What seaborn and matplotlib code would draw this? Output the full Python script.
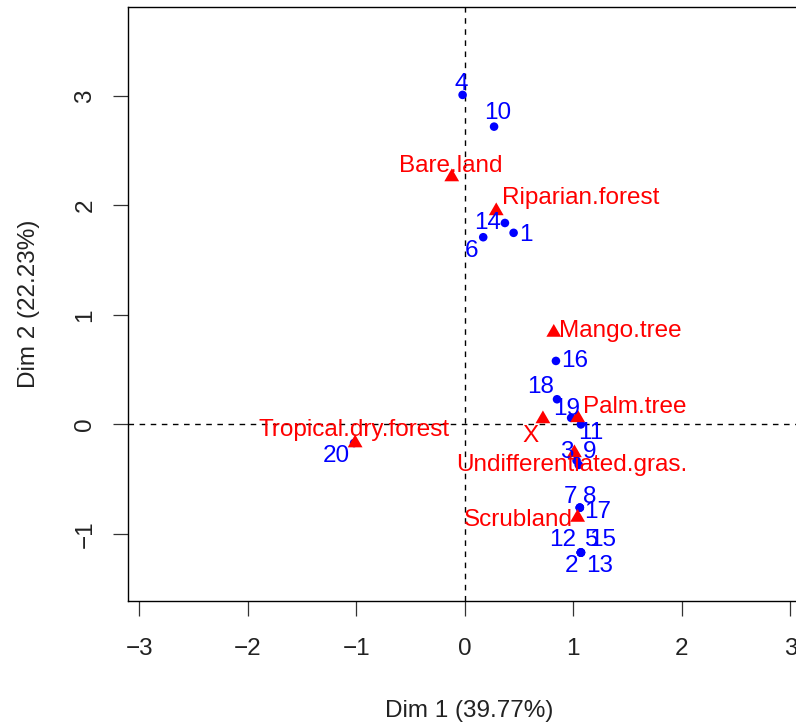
import matplotlib
matplotlib.use("Agg")
import matplotlib.pyplot as plt
import seaborn as sns
import pandas as pd

# ---- data ----
row_names = [str(i) for i in range(1, 21)]
row_dim1 = [0.45, 1.07, 1.03, -0.02, 1.07, 0.17, 1.06, 1.06, 1.05, 0.27,
            1.07, 1.07, 1.07, 0.37, 1.07, 0.84, 1.06, 0.85, 0.98, -1.02]
row_dim2 = [1.75, -1.17, -0.33, 3.01, -1.17, 1.71, -0.76, -0.76, -0.37, 2.72,
            0.00, -1.17, -1.17, 1.84, -1.17, 0.58, -0.76, 0.23, 0.06, -0.17]

col_names = ["Bare.land", "Riparian.forest", "Mango.tree", "Palm.tree", "X",
             "Undifferentiated.gras.", "Scrubland", "Tropical.dry.forest"]
col_dim1 = [-0.12, 0.29, 0.82, 1.04, 0.72, 1.01, 1.04, -1.01]
col_dim2 = [2.26, 1.95, 0.84, 0.06, 0.05, -0.26, -0.85, -0.17]

x_ticks = [-3, -2, -1, 0, 1, 2, 3]
y_ticks = [-1, 0, 1, 2, 3]
x_label = "Dim 1 (39.77%)"
y_label = "Dim 2 (22.23%)"

# ---- label placement (layout, data coordinates) ----
row_lab_x = [0.56, 0.98, 0.94, -0.03, 1.17, 0.06, 0.97, 1.15, 1.15, 0.30,
             1.16, 0.90, 1.24, 0.21, 1.27, 1.01, 1.22, 0.70, 0.94, -1.18]
row_lab_y = [1.73, -1.29, -0.25, 3.11, -1.06, 1.58, -0.66, -0.66, -0.25, 2.84,
             -0.08, -1.06, -1.29, 1.84, -1.06, 0.58, -0.80, 0.34, 0.14, -0.29]
col_lab_x = [-0.13, 1.07, 1.43, 1.57, 0.61, 0.99, 0.49, -1.02]
col_lab_y = [2.36, 2.07, 0.85, 0.16, -0.11, -0.37, -0.87, -0.05]

rows = pd.DataFrame({"name": row_names, "d1": row_dim1, "d2": row_dim2})
cols = pd.DataFrame({"name": col_names, "d1": col_dim1, "d2": col_dim2})

sns.set_theme(style="ticks")
plt.rcParams["font.family"] = ["Liberation Sans", "DejaVu Sans"]

W, H = 796, 723
fig = plt.figure(figsize=(W / 100, H / 100), dpi=100)
left, right, top, bottom = 128.3, 811, 7.3, 600.7
ax = fig.add_axes([left / W, 1 - bottom / H, (right - left) / W, (bottom - top) / H])

FS = 17.5
BLUE = "#0000FF"
RED = "#FF0000"

ax.axhline(0, color="black", lw=1.0, ls=(0, (4, 4)), zorder=1)
ax.axvline(0, color="black", lw=1.0, ls=(0, (4, 4)), zorder=1)

sns.scatterplot(data=rows, x="d1", y="d2", ax=ax, color=BLUE, marker="o",
                s=38, edgecolor="none", linewidth=0, zorder=3)
tri = [(-1, -0.58), (1, -0.58), (0, 1.15)]
sns.scatterplot(data=cols, x="d1", y="d2", ax=ax, color=RED, marker=tri,
                s=150, edgecolor="none", linewidth=0, zorder=3)

for name, lx, ly in zip(row_names, row_lab_x, row_lab_y):
    ax.text(lx, ly, name, color=BLUE, fontsize=FS, ha="center", va="center", zorder=4)
for name, lx, ly in zip(col_names, col_lab_x, col_lab_y):
    ax.text(lx, ly, name, color=RED, fontsize=FS, ha="center", va="center", zorder=4)

ax.set_xlim(-3.10, 3.19)
ax.set_ylim(-1.61, 3.81)
ax.set_xticks(x_ticks)
ax.set_yticks(y_ticks)
ax.set_xticklabels([str(t).replace("-", "\u2212") for t in x_ticks], fontsize=FS)
ax.set_yticklabels([str(t).replace("-", "\u2212") for t in y_ticks], fontsize=FS,
                   rotation=90, va="center")
ax.tick_params(axis="both", direction="out", length=11, width=0.9, color="#333333",
               labelcolor="#222222")
ax.tick_params(axis="x", pad=15.5)
ax.tick_params(axis="y", pad=12)
ax.set_xlabel(x_label, fontsize=FS, color="#222222", labelpad=29)
ax.set_ylabel(y_label, fontsize=FS, color="#222222", labelpad=25)
for s in ax.spines.values():
    s.set_visible(True)
    s.set_color("black")
    s.set_linewidth(1.0)
ax.grid(False)

fig.savefig("out.png", dpi=100)
